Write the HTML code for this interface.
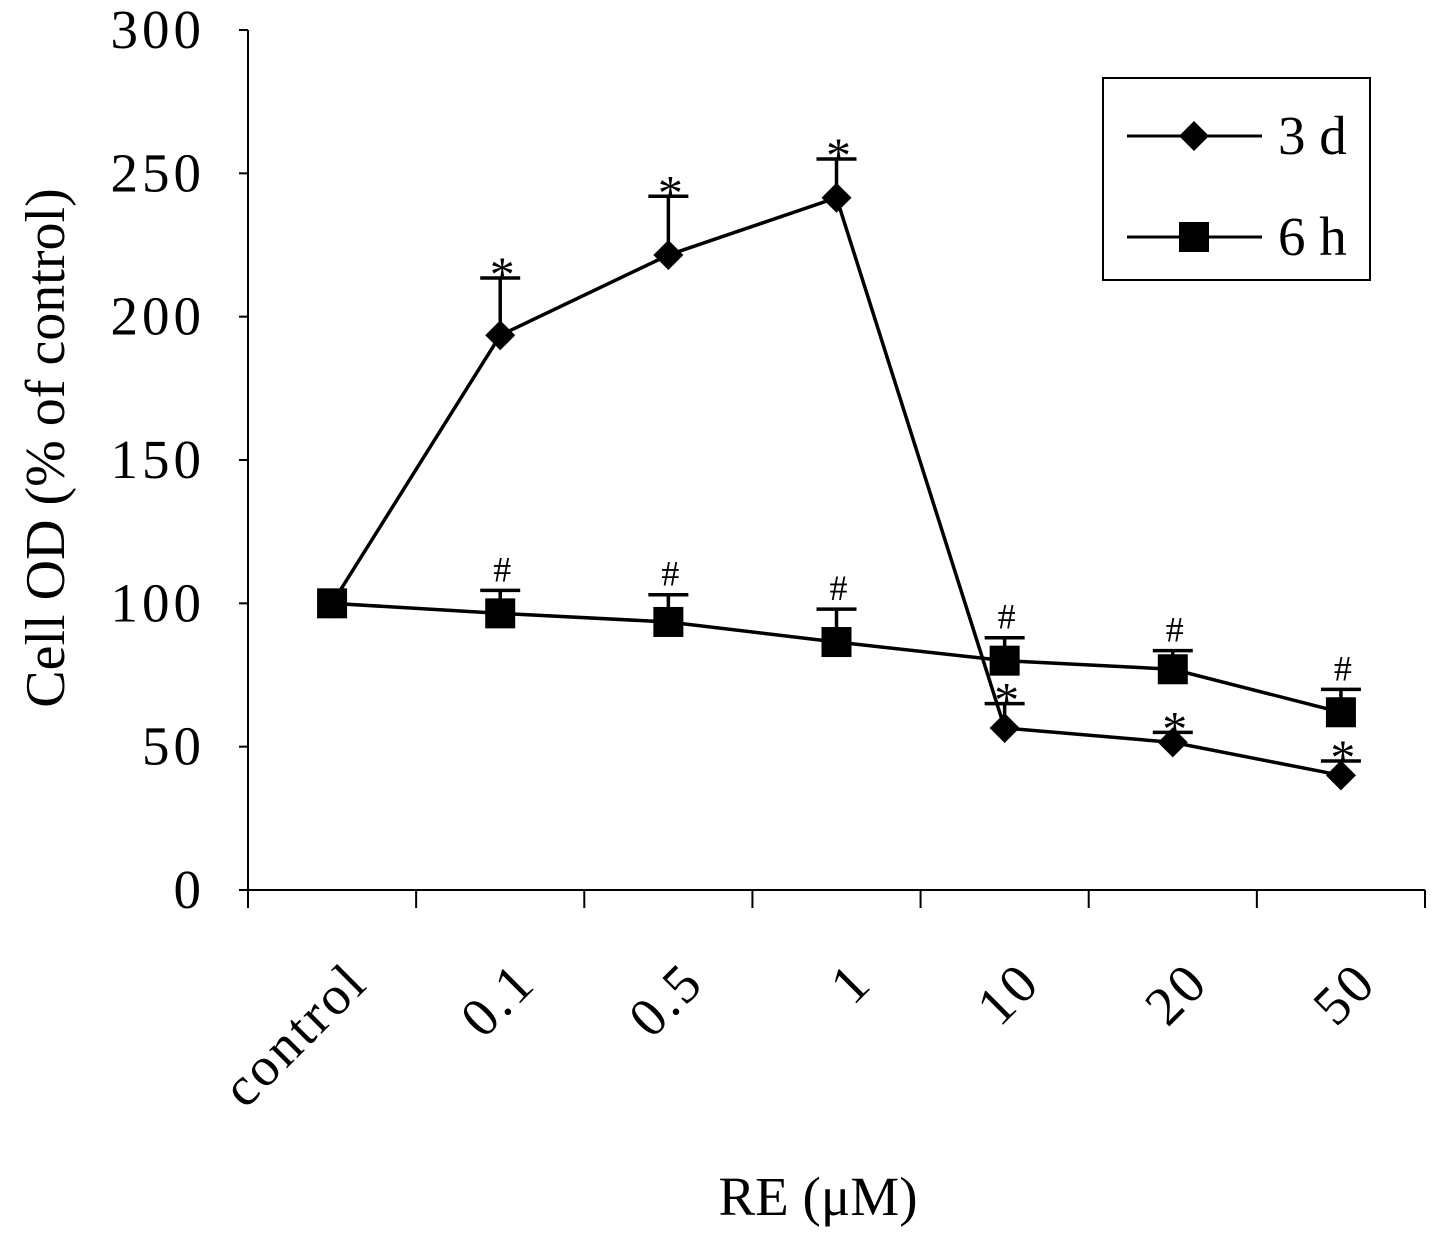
<!DOCTYPE html>
<html><head><meta charset="utf-8"><style>
body{margin:0;background:#fff;}
svg text{font-family:"Liberation Serif",serif;fill:#000;}
</style></head><body>
<svg id="chart" width="1441" height="1240" viewBox="0 0 1441 1240" xmlns="http://www.w3.org/2000/svg"></svg>
<script>
const categories=["control","0.1","0.5","1","10","20","50"];
const series3d=[100,193.5,221.5,241.5,56.5,51.5,40];
const err3d=[0,20,20.5,13.5,8.5,3.5,5];
const mark3d=["","*","*","*","*","*","*"];
const series6h=[100,96.5,93.5,86.5,80,77,62];
const err6h=[0,8,9.5,11.5,8,6.5,8];
const mark6h=["","#","#","#","#","#","#"];
const yTicks=[0,50,100,150,200,250,300];

const NS="http://www.w3.org/2000/svg";
const svg=document.getElementById('chart');
const x0=248,x1=1425,y0=890,y1=30;
const bw=(x1-x0)/categories.length;
function xs(i){return x0+bw*(i+0.5);}
function ys(v){return y0-(v/300)*(y0-y1);}
function el(tag,attrs,parent){const e=document.createElementNS(NS,tag);for(const k in attrs)e.setAttribute(k,attrs[k]);(parent||svg).appendChild(e);return e;}

let e=el('line',{x1:x0,y1:y1,x2:x0,y2:y0,stroke:'#000','stroke-width':2});


e=el('line',{x1:x0,y1:y0,x2:x1,y2:y0,stroke:'#000','stroke-width':2});


yTicks.forEach(v=>{
 el('line',{x1:x0-9,y1:ys(v),x2:x0,y2:ys(v),stroke:'#000','stroke-width':2});
 const t=el('text',{x:205,y:ys(v)+18,'font-size':55,'text-anchor':'end','letter-spacing':4});
 t.textContent=v;
 
 
});
for(let i=0;i<=categories.length;i++){
 const x=x0+bw*i;
 el('line',{x1:x,y1:y0,x2:x,y2:y0+18,stroke:'#000','stroke-width':2});
}
categories.forEach((c,i)=>{
 const x=xs(i)+38,y=985;
 const t=el('text',{x:x,y:y,'font-size':55,'text-anchor':'end','letter-spacing':3,transform:`rotate(-45 ${x} ${y})`});
 t.textContent=c;
 
 
});
let t=el('text',{x:818,y:1215,'font-size':55,'text-anchor':'middle'});
t.textContent="RE  (\u03bcM)";


t=el('text',{x:64,y:448,'font-size':56,'text-anchor':'middle',transform:'rotate(-90 64 448)'});
t.textContent="Cell OD (% of control)";



function drawSeries(vals,errs,marks,shape,name){
 const g=el('g',{});
 
 
 el('polyline',{points:vals.map((v,i)=>xs(i)+','+ys(v)).join(' '),fill:'none',stroke:'#000','stroke-width':3.5},g);
 vals.forEach((v,i)=>{
  const x=xs(i),y=ys(v);
  if(errs[i]>0){
   const yt=ys(v+errs[i]);
   el('line',{x1:x,y1:y,x2:x,y2:yt,stroke:'#000','stroke-width':3.5},g);
   el('line',{x1:x-20,y1:yt,x2:x+20,y2:yt,stroke:'#000','stroke-width':3.5},g);
   const star=marks[i]=='*';
   const m=el('text',{x:x+2,y:star?yt+13:yt-9,'font-size':star?50:36,'text-anchor':'middle'},g);
   m.textContent=marks[i];
   
   
  }
  let p;
  if(shape=='diamond') p=el('polygon',{points:`${x},${y-15} ${x+15},${y} ${x},${y+15} ${x-15},${y}`,fill:'#000'},g);
  else p=el('rect',{x:x-15,y:y-15,width:30,height:30,fill:'#000'},g);
  
  
 });
}
drawSeries(series3d,err3d,mark3d,'diamond','3d');
drawSeries(series6h,err6h,mark6h,'square','6h');

const lg=el('g',{});


el('rect',{x:1103,y:78,width:267,height:202,fill:'#fff',stroke:'#000','stroke-width':2},lg);
el('line',{x1:1127,y1:136,x2:1262,y2:136,stroke:'#000','stroke-width':3},lg);
el('polygon',{points:'1194,121 1209,136 1194,151 1179,136',fill:'#000'},lg);
el('line',{x1:1127,y1:237,x2:1262,y2:237,stroke:'#000','stroke-width':3},lg);
el('rect',{x:1179,y:222,width:30,height:30,fill:'#000'},lg);
t=el('text',{x:1278,y:154,'font-size':55},lg);t.textContent="3 d";


t=el('text',{x:1278,y:255,'font-size':55},lg);t.textContent="6 h";


</script>
</body></html>
